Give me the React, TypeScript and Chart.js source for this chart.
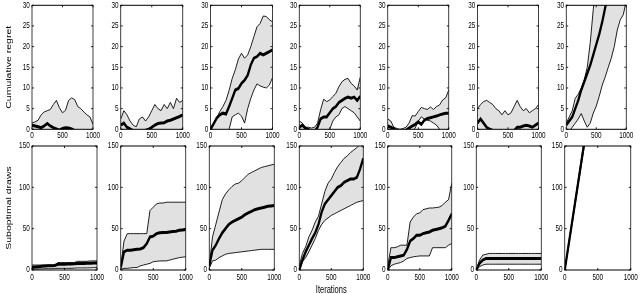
import React, { useEffect, useRef } from "react";
import { Chart, registerables } from "chart.js";

Chart.register(...registerables);

// ---------- data ----------
const ITERATIONS = [0, 50, 100, 150, 200, 250, 300, 350, 400, 450, 500, 550, 600, 650, 700, 750, 800, 850, 900, 950, 1000];
const X_TICKS = [0, 500, 1000];
const REGRET_TICKS = [0, 5, 10, 15, 20, 25, 30];
const DRAWS_TICKS = [0, 50, 100, 150];

const Y_TITLE_TOP = "Cumulative regret";
const Y_TITLE_BOTTOM = "Suboptimal draws";
const X_TITLE = "Iterations";

// top row: cumulative regret
const regretUpper1 = [1.5, 1.8, 2.2, 3.5, 4.2, 4.5, 4.8, 6, 7, 5.2, 4, 4.6, 7, 7.6, 7.2, 5.5, 5, 4.2, 3.5, 3, 1.2];
const regretMean1 = [1, 0.8, 0.6, 0.4, 0.8, 1.4, 0.8, 0.4, 0.1, -0.2, 0.2, 0.4, 0.3, 0.1, -0.3, -0.5, -0.8, -1, -1.2, -1.2, -1.5];
const regretLower1 = [-0.5, -2, -3, -4, -4.5, -5, -5.5, -6, -6, -6.5, -7, -7, -7.5, -7.5, -8, -8, -8.5, -8.5, -9, -9, -9];

const regretUpper2 = [2.5, 4.5, 3.5, 2, 1, 0.6, 2.5, 3, 2, 3, 4.5, 6, 5, 4.5, 6, 5, 6.5, 5, 7.5, 6.5, 7];
const regretMean2 = [1, 1.5, 0.5, 0.1, -0.3, -0.5, -0.5, -0.3, -0.2, 0, 0.5, 1, 1.4, 1.5, 1.6, 2, 2.2, 2.5, 2.8, 3.1, 3.5];
const regretLower2 = [-0.5, -1.5, -2.5, -3, -3.5, -4, -4.5, -5, -5, -5, -4.5, -4, -4, -4, -3.5, -3.5, -3, -3, -2.5, -2, -1];

const regretUpper3 = [0.5, 1.5, 2.7, 4.3, 5.5, 7, 9.4, 12.3, 14.4, 17, 18.4, 17.2, 18, 20, 22.4, 24.8, 25.6, 27.4, 27.3, 26.5, 26];
const regretMean3 = [0, 1.3, 2.7, 3.5, 3.9, 3.7, 5.5, 7.5, 9.5, 9.9, 11.1, 11.9, 13.1, 15.6, 17.2, 17.6, 18.4, 18, 18.4, 18.8, 19.2];
const regretLower3 = [-1, -2, -3, -3, -2.5, -1.5, 0, 3, 3.5, 3.9, 3.2, 1.5, 5, 7.5, 9.5, 11, 10.5, 10.2, 10, 10.7, 12.5];

const regretUpper4 = [2, 1.5, 0.5, 0.5, 0.3, 0.5, 1.5, 4.7, 7.3, 6.7, 7.1, 7.9, 8.7, 10.3, 11.5, 12.1, 12.3, 11.1, 10.5, 9.5, 12.6];
const regretMean4 = [0.5, 1, 0.3, 0, -0.5, -0.5, 0.5, 2.5, 3, 3, 4, 5, 5.5, 6.5, 7, 7.5, 7.8, 7.5, 7.8, 7, 8];
const regretLower4 = [-0.5, -1.5, -2, -3, -3.5, -4, -3.5, -2.5, -1.5, -0.5, 0, 2, 3, 3.5, 5, 5.5, 5, 4.5, 4, 3, 2];

const regretUpper5 = [2.5, 2, 0.5, 0.2, 0, 0.2, 0.5, 1.5, 3.3, 3.2, 4.3, 5.3, 5, 4.8, 5.4, 4.8, 5.5, 5.9, 7.1, 7.6, 9.5];
const regretMean5 = [0.8, 0.5, 0.1, -0.3, -0.5, -0.5, -0.2, 0.3, 0.8, 1.2, 1.8, 1.2, 2.2, 2.6, 2.8, 3, 3.2, 3.5, 3.7, 3.9, 3.9];
const regretLower5 = [-0.5, -1.5, -2, -2.5, -3, -3, -2.5, -1.5, -0.5, 0.3, 2, 3, 2.5, 2.2, 2, 1.5, 1, 0, -1, -1.5, -2];

const regretUpper6 = [5, 6, 6.7, 7, 6.5, 6, 5, 4.5, 3.5, 4.5, 3.5, 4, 5.5, 7, 5.5, 4.5, 5, 4, 4.5, 5, 6];
const regretMean6 = [1.5, 2.5, 1.5, 0.5, 0, -0.3, -0.5, -0.7, -0.8, -0.8, -0.7, -0.5, -0.3, 0.5, 0.5, 0.8, 1, 0.8, 0.5, 1, 1.5];
const regretLower6 = [-1, -3, -4, -5, -5.5, -6, -6.5, -7, -7, -7, -7, -7, -6.5, -6, -6, -5.5, -5, -5, -5, -4.5, -4];

const regretUpper7 = [1.5, 3, 4.5, 7.5, 8.5, 10, 12, 15, 21, 29, 35, 40, 45, 50, 55, 60, 65, 70, 75, 80, 85];
const regretMean7 = [1, 2, 3, 5, 7, 9.5, 11.5, 13.5, 15.5, 18, 20.5, 23, 26, 29.5, 33, 36, 39, 42, 45, 48, 51];
const regretLower7 = [0, -0.5, 0.5, 1.5, 2.5, 3.8, 2, 0.5, 1.5, 3.9, 5.6, 8, 10.7, 12.7, 15, 17.2, 20, 24, 26.5, 27.7, 31];

// bottom row: suboptimal draws
const drawsUpper1 = [6, 6, 6, 6, 6, 6, 6, 6, 9, 9, 9, 9, 9, 9, 10.5, 10.5, 10.5, 10.5, 11, 11, 11];
const drawsMean1 = [3, 3.5, 4, 4.5, 4.8, 5, 5, 5.5, 7, 7, 7, 7.2, 7.3, 7.5, 8, 8, 8, 8.2, 8.3, 8.4, 8.5];
const drawsLower1 = [1, 1, 1.2, 1.3, 1.5, 1.5, 1.5, 1.7, 2, 2, 2, 2, 2, 2.2, 2.5, 2.5, 2.5, 2.5, 2.7, 2.8, 3];

const drawsUpper2 = [5, 35, 44, 44, 44, 44, 44, 44, 44, 72, 76, 80, 81, 81, 82, 82, 82, 82, 82, 82, 82];
const drawsMean2 = [3, 22, 24, 24, 24.5, 25, 25.5, 27, 32, 40, 41, 44, 45, 45.5, 45.5, 46, 46.5, 47, 48, 48.5, 49];
const drawsLower2 = [1, 2, 2, 2.5, 3, 3, 5, 6, 7, 8, 10, 10.5, 11, 11, 11, 12, 13, 14, 15, 15.5, 16];

const drawsUpper3 = [5, 40, 55, 70, 85, 92, 97, 101, 104, 105, 108, 112, 116, 118, 120, 122, 124, 125, 126, 127, 128];
const drawsMean3 = [5, 24, 30, 38, 45, 50, 55, 58, 60, 62, 64, 67, 69, 71, 73, 74, 75, 76, 77, 77.5, 78];
const drawsLower3 = [2, 11, 12, 15, 17, 19, 20, 20.5, 21, 21.5, 22, 22.5, 23, 23.5, 24, 24.5, 25, 25, 25, 25, 25];

const drawsUpper4 = [5, 20, 28, 40, 48, 58, 65, 80, 95, 105, 110, 118, 125, 130, 135, 138, 142, 145, 148, 152, 158];
const drawsMean4 = [0, 12, 22, 30, 38, 45, 55, 70, 80, 85, 90, 95, 100, 102, 106, 108, 110, 110, 112, 122, 135];
const drawsLower4 = [0, 10, 15, 22, 30, 38, 48, 55, 60, 63, 66, 68, 70, 72, 74, 76, 78, 80, 82, 83, 84];

const drawsUpper5 = [5, 27, 27, 28, 30, 30, 30, 58, 64, 68, 69, 73, 74, 75, 75, 75.5, 76, 78, 82, 85, 105];
const drawsMean5 = [0, 15, 15, 16, 17, 18, 25, 35, 38, 42, 42, 44, 45, 46, 48, 49, 50, 51, 53, 60, 68];
const drawsLower5 = [0, 5, 7, 8, 9, 11, 14, 15, 16, 16.5, 17, 17, 17, 17, 27, 27, 27, 27, 27, 30, 32];

const drawsUpper6 = [0, 12, 18, 19, 20, 20, 20, 20, 20, 20, 20, 20, 20, 20, 20, 20, 20, 20, 20, 20, 20];
const drawsMean6 = [0, 8, 12, 14, 14, 14, 14, 14, 14, 14, 14, 14, 14, 14, 14, 14, 14, 14, 14, 14, 14];
const drawsLower6 = [0, 4, 6, 7, 7, 7, 7, 7, 7, 7, 7, 7, 7, 7, 7, 7, 7, 7, 7, 7, 7];

const drawsUpper7 = [0.5, 27.5, 54, 80.5, 107, 133.5, 160, 186.5, 213, 239.5, 266, 292.5, 319, 345.5, 372, 398.5, 425, 451.5, 478, 504.5, 531];
const drawsMean7 = [0, 26, 52, 78, 104, 130, 156, 182, 208, 234, 260, 286, 312, 338, 364, 390, 416, 442, 468, 494, 520];
const drawsLower7 = [0, 24.5, 50, 75.5, 101, 126.5, 152, 177.5, 203, 228.5, 254, 279.5, 305, 330.5, 356, 381.5, 407, 432.5, 458, 483.5, 509];

// ---------- layout (page pixels) ----------
const SX = 0.75; // horizontal squeeze applied inside each canvas
const ROW_TOP = [5.3, 146];
const ROW_BOTTOM = [129.3, 270];
const CANVAS_TOP = [0, 138];
const CANVAS_H = [145, 158];
const COLS = [
  [[32, 93], [121, 183], [210, 272], [299, 360], [388, 449], [477, 538], [566, 626]],
  [[32, 97], [121, 186], [209, 274], [299, 363], [388, 452], [476, 541], [565, 631]],
];
const FONT_FAMILY = "'Liberation Sans', Arial, Helvetica, sans-serif";
const FILL = "#e1e1e1";
const TEXT = "#000";

type PanelDef = {
  row: number;
  col: number;
  upper: number[];
  mean: number[];
  lower: number[];
};

const PANELS: PanelDef[] = [
  { row: 0, col: 0, upper: regretUpper1, mean: regretMean1, lower: regretLower1 },
  { row: 0, col: 1, upper: regretUpper2, mean: regretMean2, lower: regretLower2 },
  { row: 0, col: 2, upper: regretUpper3, mean: regretMean3, lower: regretLower3 },
  { row: 0, col: 3, upper: regretUpper4, mean: regretMean4, lower: regretLower4 },
  { row: 0, col: 4, upper: regretUpper5, mean: regretMean5, lower: regretLower5 },
  { row: 0, col: 5, upper: regretUpper6, mean: regretMean6, lower: regretLower6 },
  { row: 0, col: 6, upper: regretUpper7, mean: regretMean7, lower: regretLower7 },
  { row: 1, col: 0, upper: drawsUpper1, mean: drawsMean1, lower: drawsLower1 },
  { row: 1, col: 1, upper: drawsUpper2, mean: drawsMean2, lower: drawsLower2 },
  { row: 1, col: 2, upper: drawsUpper3, mean: drawsMean3, lower: drawsLower3 },
  { row: 1, col: 3, upper: drawsUpper4, mean: drawsMean4, lower: drawsLower4 },
  { row: 1, col: 4, upper: drawsUpper5, mean: drawsMean5, lower: drawsLower5 },
  { row: 1, col: 5, upper: drawsUpper6, mean: drawsMean6, lower: drawsLower6 },
  { row: 1, col: 6, upper: drawsUpper7, mean: drawsMean7, lower: drawsLower7 },
];

// squeeze everything the chart draws horizontally (text included)
const squeezePlugin = {
  id: "squeeze",
  beforeDraw(chart: any) {
    chart.ctx.save();
    chart.ctx.setTransform(SX, 0, 0, 1, 0, 0);
  },
  afterDraw(chart: any) {
    chart.ctx.restore();
  },
};

const boxPlugin = {
  id: "matlabBox",
  afterDatasetsDraw(chart: any) {
    const { ctx, chartArea, scales } = chart;
    const { left, right, top, bottom } = chartArea;
    ctx.save();
    ctx.strokeStyle = "#000";
    ctx.lineWidth = 1;
    ctx.strokeRect(left, top, right - left, bottom - top);
    const tx = 2.6;
    const ty = 2;
    ctx.beginPath();
    scales.x.ticks.forEach((t: any) => {
      const px = scales.x.getPixelForValue(t.value);
      ctx.moveTo(px, bottom);
      ctx.lineTo(px, bottom - ty);
      ctx.moveTo(px, top);
      ctx.lineTo(px, top + ty);
    });
    scales.y.ticks.forEach((t: any) => {
      const py = scales.y.getPixelForValue(t.value);
      ctx.moveTo(left, py);
      ctx.lineTo(left + tx, py);
      ctx.moveTo(right, py);
      ctx.lineTo(right - tx, py);
    });
    ctx.stroke();
    ctx.restore();
  },
};

const plainLabel = (v: any) => String(v);

function Panel({ def }: { def: PanelDef }) {
  const ref = useRef<HTMLCanvasElement | null>(null);
  const { row, col } = def;
  const [L, R] = COLS[row][col];
  const plotLeft = L / SX;
  const plotW = (R - L) / SX;
  const canvasLeft = col === 0 ? 0 : Math.round(plotLeft - 22);
  const yW = plotLeft - canvasLeft;
  const width = Math.ceil(yW + plotW + 14);
  const padR = width - yW - plotW;
  const canvasTop = CANVAS_TOP[row];
  const padT = ROW_TOP[row] - canvasTop;
  const plotH = ROW_BOTTOM[row] - ROW_TOP[row];
  const height = CANVAS_H[row];
  const xH = height - padT - plotH;

  useEffect(() => {
    const canvas = ref.current;
    if (!canvas) return;
    const yTicks = row === 0 ? REGRET_TICKS : DRAWS_TICKS;
    const yMax = yTicks[yTicks.length - 1];
    const toPts = (arr: number[]) => ITERATIONS.map((x, i) => ({ x, y: arr[i] }));
    const chart = new Chart(canvas, {
      type: "line",
      data: {
        datasets: [
          { data: toPts(def.mean), borderColor: "#000", borderWidth: 3, pointRadius: 0, fill: false },
          { data: toPts(def.upper), borderColor: "#000", borderWidth: 1, pointRadius: 0, fill: false },
          {
            data: toPts(def.lower),
            borderColor: "#000",
            borderWidth: 1,
            pointRadius: 0,
            fill: "-1",
            backgroundColor: FILL,
          },
        ],
      },
      options: {
        animation: false,
        responsive: false,
        maintainAspectRatio: false,
        events: [],
        layout: { padding: { left: 0, top: padT, right: padR, bottom: 0 } },
        plugins: { legend: { display: false }, tooltip: { enabled: false } },
        scales: {
          x: {
            type: "linear",
            min: 0,
            max: 1000,
            afterBuildTicks: (s: any) => {
              s.ticks = X_TICKS.map((v) => ({ value: v }));
            },
            ticks: {
              maxRotation: 0,
              autoSkip: false,
              padding: row === 0 ? 1.2 : 2.2,
              color: TEXT,
              font: { family: FONT_FAMILY, size: 8.5 },
              callback: plainLabel,
            },
            grid: { display: false, drawTicks: false },
            border: { display: false },
            title: {
              display: row === 1 && col === 3,
              text: X_TITLE,
              color: TEXT,
              font: { family: FONT_FAMILY, size: 10 },
              padding: { top: 0, bottom: 0 },
            },
            afterFit: (s: any) => {
              s.height = xH;
              s.paddingLeft = 0;
              s.paddingRight = 0;
              s.paddingTop = 0;
              s.paddingBottom = 0;
            },
          },
          y: {
            type: "linear",
            min: 0,
            max: yMax,
            afterBuildTicks: (s: any) => {
              s.ticks = yTicks.map((v) => ({ value: v }));
            },
            ticks: {
              autoSkip: false,
              padding: 3,
              color: TEXT,
              font: { family: FONT_FAMILY, size: 8.5 },
              callback: plainLabel,
            },
            grid: { display: false, drawTicks: false },
            border: { display: false },
            title: {
              display: col === 0,
              text: row === 0 ? Y_TITLE_TOP : Y_TITLE_BOTTOM,
              color: TEXT,
              font: { family: FONT_FAMILY, size: 10.5 },
              padding: { top: 5.6, bottom: 0 },
            },
            afterFit: (s: any) => {
              s.width = yW;
              s.paddingLeft = 0;
              s.paddingRight = 0;
              s.paddingTop = 0;
              s.paddingBottom = 0;
            },
          },
        },
      },
      plugins: [squeezePlugin, boxPlugin],
    } as any);
    return () => chart.destroy();
  }, []);

  return (
    <canvas
      ref={ref}
      width={width}
      height={height}
      style={{ position: "absolute", left: canvasLeft * SX, top: canvasTop, width, height, display: "block" }}
    />
  );
}

export default function App() {
  return (
    <div
      style={{
        position: "fixed",
        left: 0,
        top: 0,
        width: 640,
        height: 294,
        overflow: "hidden",
        background: "#fff",
      }}
    >
      {PANELS.map((p) => (
        <Panel key={`${p.row}-${p.col}`} def={p} />
      ))}
    </div>
  );
}
